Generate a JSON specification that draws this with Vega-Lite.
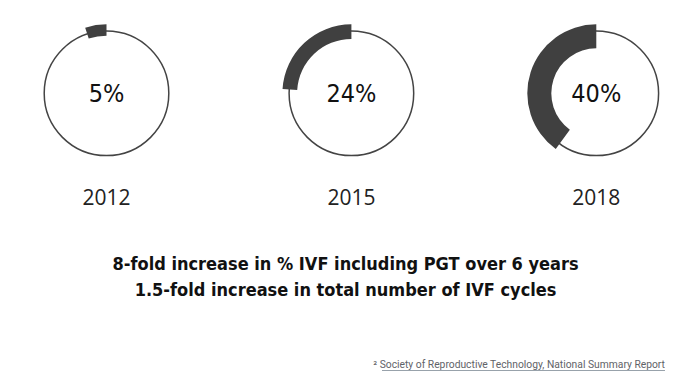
{
  "$schema": "https://vega.github.io/schema/vega-lite/v6.json",
  "width": 697,
  "height": 375,
  "autosize": {"type": "fit", "contains": "padding"},
  "padding": 0,
  "background": "white",
  "config": {"view": {"stroke": null}},
  "data": {"values": [
    {"kind": "ring", "year": "2012", "pos": 0, "pct": 5, "label": "5%"},
    {"kind": "ring", "year": "2015", "pos": 1, "pct": 24, "label": "24%"},
    {"kind": "ring", "year": "2018", "pos": 2, "pct": 40, "label": "40%"},
    {"kind": "line1", "text": "8-fold increase in % IVF including PGT over 6 years"},
    {"kind": "line2", "text": "1.5-fold increase in total number of IVF cycles"},
    {"kind": "note", "text": "² Society of Reproductive Technology, National Summary Report"}
  ]},
  "layer": [
    {
      "transform": [{"filter": "datum.kind == 'ring'"}],
      "mark": {"type": "point", "shape": "circle", "size": 15525, "filled": false, "stroke": "#444444", "strokeWidth": 1.5, "opacity": 1},
      "encoding": {
        "x": {"field": "pos", "type": "quantitative", "axis": null, "scale": {"domain": [-0.4349, 2.4112], "nice": false, "zero": false}},
        "y": {"datum": 93.3, "type": "quantitative", "axis": null, "scale": {"domain": [0, 375], "reverse": true, "nice": false, "zero": false}}
      }
    },
    {
      "transform": [{"filter": "datum.year == '2012'"}],
      "mark": {"type": "arc", "innerRadius": 57.6, "outerRadius": 69, "color": "#404040"},
      "encoding": {
        "x": {"field": "pos", "type": "quantitative"},
        "y": {"datum": 93.3, "type": "quantitative"},
        "theta": {"field": "pct", "type": "quantitative", "stack": null, "scale": {"domain": [0, 100], "range": [6.283185, 0]}},
        "theta2": {"datum": 0}
      }
    },
    {
      "transform": [{"filter": "datum.year == '2015'"}],
      "mark": {"type": "arc", "innerRadius": 54.3, "outerRadius": 69, "color": "#404040"},
      "encoding": {
        "x": {"field": "pos", "type": "quantitative"},
        "y": {"datum": 93.3, "type": "quantitative"},
        "theta": {"field": "pct", "type": "quantitative", "stack": null},
        "theta2": {"datum": 0}
      }
    },
    {
      "transform": [{"filter": "datum.year == '2018'"}],
      "mark": {"type": "arc", "innerRadius": 45, "outerRadius": 69, "color": "#404040"},
      "encoding": {
        "x": {"field": "pos", "type": "quantitative"},
        "y": {"datum": 93.3, "type": "quantitative"},
        "theta": {"field": "pct", "type": "quantitative", "stack": null},
        "theta2": {"datum": 0}
      }
    },
    {
      "transform": [{"filter": "datum.kind == 'ring'"}],
      "mark": {"type": "text", "font": "DejaVu Sans Condensed", "fontWeight": 300, "fontSize": 25, "baseline": "middle", "align": "center", "color": "#111111"},
      "encoding": {
        "x": {"field": "pos", "type": "quantitative"},
        "y": {"datum": 94, "type": "quantitative"},
        "text": {"field": "label"}
      }
    },
    {
      "transform": [{"filter": "datum.kind == 'ring'"}],
      "mark": {"type": "text", "font": "Open Sans", "fontSize": 21, "baseline": "middle", "align": "center", "color": "#222222"},
      "encoding": {
        "x": {"field": "pos", "type": "quantitative"},
        "y": {"datum": 199, "type": "quantitative"},
        "text": {"field": "year"}
      }
    },
    {
      "transform": [{"filter": "datum.kind == 'line1'"}],
      "mark": {"type": "text", "font": "DejaVu Sans Condensed", "fontWeight": "bold", "fontSize": 18, "baseline": "alphabetic", "align": "center", "color": "#111111"},
      "encoding": {
        "x": {"datum": 0.976, "type": "quantitative"},
        "y": {"datum": 270, "type": "quantitative"},
        "text": {"field": "text"}
      }
    },
    {
      "transform": [{"filter": "datum.kind == 'line2'"}],
      "mark": {"type": "text", "font": "DejaVu Sans Condensed", "fontWeight": "bold", "fontSize": 18, "baseline": "alphabetic", "align": "center", "color": "#111111"},
      "encoding": {
        "x": {"datum": 0.976, "type": "quantitative"},
        "y": {"datum": 296, "type": "quantitative"},
        "text": {"field": "text"}
      }
    },
    {
      "transform": [{"filter": "datum.kind == 'note'"}],
      "mark": {"type": "text", "font": "Roboto", "fontSize": 10.3, "baseline": "alphabetic", "align": "right", "color": "#5f6368"},
      "encoding": {
        "x": {"datum": 2.2805, "type": "quantitative"},
        "y": {"datum": 368, "type": "quantitative"},
        "text": {"field": "text"}
      }
    },
    {
      "transform": [{"filter": "datum.kind == 'note'"}],
      "mark": {"type": "rule", "strokeWidth": 0.8, "color": "#7d8a96"},
      "encoding": {
        "x": {"datum": 1.125, "type": "quantitative"},
        "x2": {"datum": 2.2805},
        "y": {"datum": 370.5, "type": "quantitative"}
      }
    }
  ]
}
